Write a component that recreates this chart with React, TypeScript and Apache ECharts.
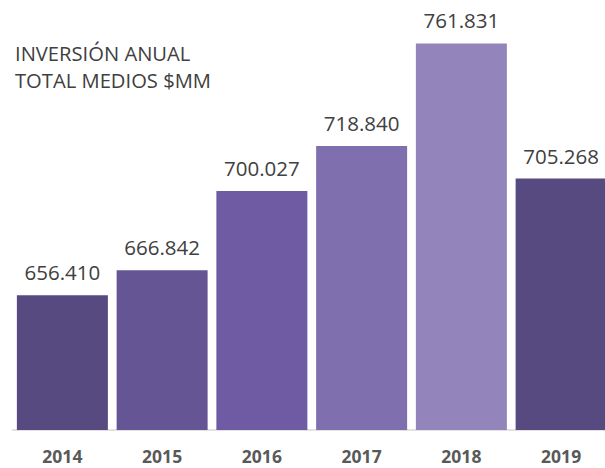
import React, { useEffect, useRef } from "react";
import * as echarts from "echarts";

const categories = ["2014", "2015", "2016", "2017", "2018", "2019"];
const values = [656.41, 666.842, 700.027, 718.84, 761.831, 705.268];
const barColors = ["#574a80", "#655595", "#6f5ba4", "#7f6faf", "#9385bb", "#564a80"];
const titleLines = ["INVERSIÓN ANUAL", "TOTAL MEDIOS $MM"];

const fmt = (v: number) => v.toFixed(3);

export default function App() {
  const ref = useRef<HTMLDivElement>(null);
  useEffect(() => {
    if (!ref.current) return;
    const chart = echarts.init(ref.current, null, { renderer: "svg" });
    chart.setOption({
      animation: false,
      backgroundColor: "#ffffff",
      grid: { left: 12.5, top: 0, right: 0, bottom: 38, containLabel: false },
      title: {
        text: titleLines.join("\n"),
        left: 15,
        top: 39,
        padding: 0,
        textStyle: {
          fontFamily: "Open Sans",
          fontSize: 20.2,
          fontWeight: "normal",
          color: "#404040",
          lineHeight: 27.5,
        },
      },
      xAxis: {
        type: "category",
        data: categories,
        axisTick: { show: false },
        axisLine: { lineStyle: { color: "#d9d9d9", width: 1.5 } },
        axisLabel: {
          margin: 17,
          fontFamily: "Open Sans",
          fontWeight: "bold",
          fontSize: 17.5,
          color: "#595959",
        },
      },
      yAxis: {
        type: "value",
        min: 600,
        max: 780,
        show: false,
        splitLine: { show: false },
      },
      series: [
        {
          type: "bar",
          barWidth: 91,
          data: values.map((v, i) => ({ value: v, itemStyle: { color: barColors[i] } })),
          label: {
            show: true,
            position: "top",
            distance: 12.5,
            formatter: (p: any) => fmt(p.value),
            fontFamily: "Open Sans",
            fontSize: 20.5,
            color: "#404040",
          },
        },
      ],
    });
    return () => chart.dispose();
  }, []);
  return (
    <div style={{ width: 605, height: 468, position: "absolute", left: 0, top: 0, overflow: "hidden" }}>
      <div ref={ref} style={{ width: 611, height: 468 }} />
    </div>
  );
}
